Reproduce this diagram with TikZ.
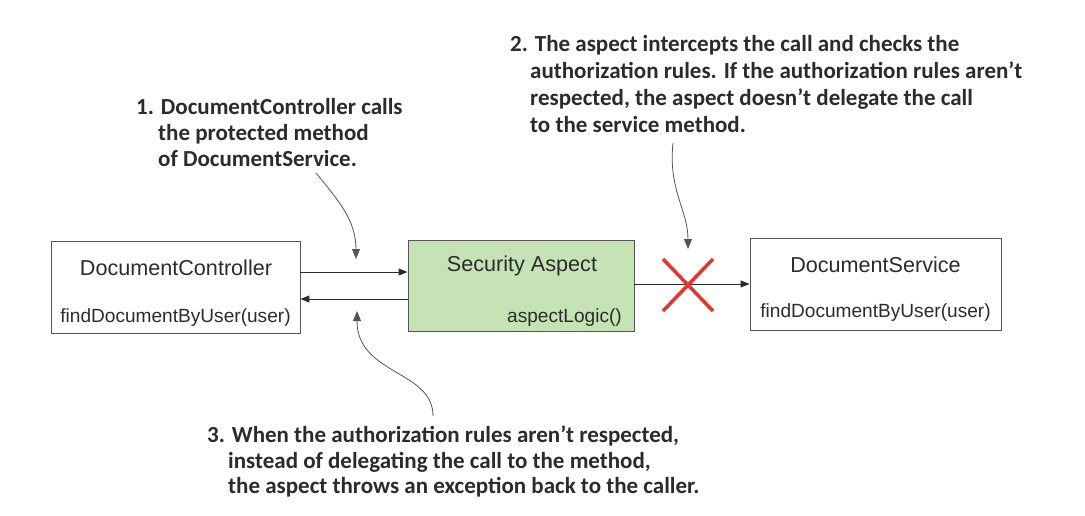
\documentclass[tikz,border=0pt]{standalone}
\usepackage{fontspec}
\setmainfont{Liberation Sans}
\newfontfamily\callfont{Carlito}
\usetikzlibrary{arrows.meta}
\definecolor{boxgreen}{HTML}{C6E3B5}
\definecolor{edge}{HTML}{555555}
\definecolor{xred}{HTML}{E8342F}
\definecolor{ink}{HTML}{2B2B2B}
\tikzset{
  box/.style={draw=edge, line width=0.9pt, inner sep=0pt},
  title/.style={font=\fontsize{21.6}{25}\selectfont, text=ink, inner sep=0pt},
  meth/.style={font=\fontsize{19.1}{23}\selectfont, text=ink, inner sep=0pt},
  callout/.style={text=ink, align=left, anchor=north west, inner sep=0pt},
  arr/.style={draw=ink, line width=1pt, -{Triangle[length=9pt,width=7pt]}},
  curv/.style={draw=edge, line width=0.8pt, -{Triangle[length=10pt,width=8pt]}},
}
\newcommand{\cfont}[1]{\callfont\bfseries\fontsize{23}{#1}\selectfont}
\begin{document}
\begin{tikzpicture}[x=1pt,y=-1pt]
\useasboundingbox (0,0) rectangle (1085,515);
% boxes
\node[box, minimum width=249pt, minimum height=92pt] (DC) at (175.5,287) {};
\node[box, fill=boxgreen, minimum width=226pt, minimum height=91pt] (SA) at (521,285.5) {};
\node[box, minimum width=251pt, minimum height=92pt] (DS) at (875.5,284) {};
% box texts
\node[title] (DCt) at (176,268) {DocumentController};
\node[meth] (DCm) at (175.5,318) {findDocumentByUser(user)};
\node[title] (SAt) at (522,266) {Security Aspect};
\node[meth, anchor=east] (SAm) at (622,318) {aspectLogic()};
\node[title] (DSt) at (875.5,265) {DocumentService};
\node[meth] (DSm) at (875.5,313) {findDocumentByUser(user)};
% connectors
\draw[arr] (DC.east |- 0,272) -- (SA.west |- 0,272);
\draw[arr] (SA.west |- 0,299) -- (DC.east |- 0,299);
\draw[arr, line width=0.9pt] (SA.east |- 0,284) -- (DS.west |- 0,284);
% red X
\coordinate (X) at (688,285);
\draw[xred, line width=3.5pt] ([shift={(-25,-26)}]X) -- ([shift={(25,26)}]X);
\draw[xred, line width=3.5pt] ([shift={(-25,26)}]X) -- ([shift={(25,-26)}]X);
% callouts
\node[callout, font=\cfont{26}] (c1) at (136,98.5) {1. DocumentController calls\\\hspace*{22pt}the protected method\\\hspace*{22pt}of DocumentService.};
\node[callout, font=\cfont{27}] (c2) at (510,35) {2. The aspect intercepts the call and checks the\\\hspace*{20pt}authorization rules. If the authorization rules aren’t\\\hspace*{20pt}respected, the aspect doesn’t delegate the call\\\hspace*{20pt}to the service method.};
\node[callout, font=\cfont{25.5}] (c3) at (207,426) {3. When the authorization rules aren’t respected,\\\hspace*{21pt}instead of delegating the call to the method,\\\hspace*{21pt}the aspect throws an exception back to the caller.};
% curved pointers
\coordinate (s1) at (316,173);
\coordinate (s2) at (673,143);
\coordinate (s3) at (433,416);
\coordinate (p1) at (356,259);
\coordinate (p2) at (688,249);
\coordinate (p3) at (357,311);
\draw[curv] (s1) .. controls (338,200) and (356,220) .. (p1);
\draw[curv] (s2) .. controls (668,190) and (688,210) .. (p2);
\draw[curv] (s3) .. controls (433,370) and (357,375) .. (p3);
\end{tikzpicture}
\end{document}
